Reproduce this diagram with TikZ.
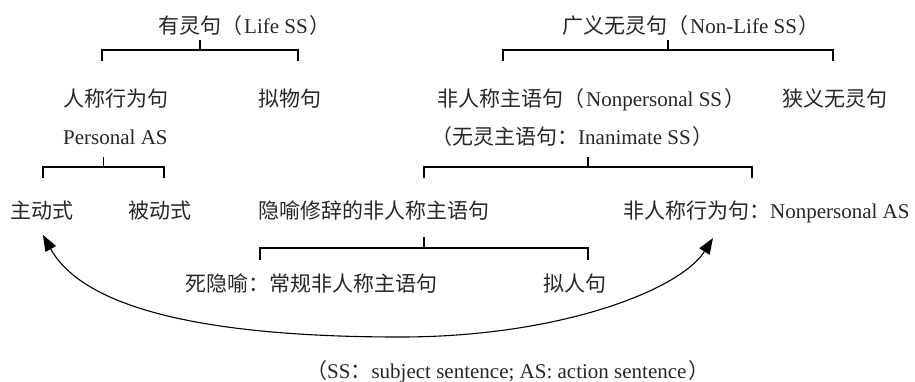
\documentclass[tikz,border=0pt]{standalone}
\usepackage{fontspec}
\setmainfont{Liberation Serif}
\newfontfamily\cjk{Noto Sans CJK SC}
\usetikzlibrary{arrows.meta}
\newcommand\zh[1]{{\cjk #1}}
\newcommand\brkt[6]{%
  \coordinate (#1t) at ({(#2+#3)/2},#4);
  \coordinate (#1m) at ({(#2+#3)/2},#5);
  \coordinate (#1l) at (#2,#5);
  \coordinate (#1r) at (#3,#5);
  \coordinate (#1lb) at (#2,#6);
  \coordinate (#1rb) at (#3,#6);
  \draw[brk] (#1t) -- (#1m) (#1lb) -- (#1l) -- (#1r) -- (#1rb);}
\begin{document}
\begin{tikzpicture}[x=1pt,y=-1pt,
  lbl/.style={anchor=west,inner sep=0pt,text height=18pt,text depth=2pt,
    font=\fontsize{21}{25}\selectfont,text=black!85},
  brk/.style={line width=1.1pt,draw=black},
  arr/.style={line width=1.1pt,draw=black,
    {Triangle[length=16pt,width=12pt]}-{Triangle[length=16pt,width=12pt]}}]
\useasboundingbox (0,0) rectangle (915,381);

% row 1
\node[lbl] (life) at (158,25) {\zh{有灵句（}\kern2pt Life SS\kern2pt\zh{）}};
\node[lbl] (nonlife) at (562,25) {\zh{广义无灵句（}\kern2pt Non-Life SS\kern2pt\zh{）}};
% row 2
\node[lbl] (pa) at (63,98) {\zh{人称行为句}};
\node[lbl] (nw) at (258,98) {\zh{拟物句}};
\node[lbl] (nps) at (437,98) {\zh{非人称主语句（}\kern2pt Nonpersonal SS\kern2pt\zh{）}};
\node[lbl] (xy) at (782,98) {\zh{狭义无灵句}};
% row 3
\node[lbl] (pas) at (63,136) {Personal AS};
\node[lbl] (inan) at (431,136) {\zh{（无灵主语句：}Inanimate SS\kern2pt\zh{）}};
% row 4
\node[lbl] (zd) at (10,210) {\zh{主动式}};
\node[lbl] (bd) at (128,210) {\zh{被动式}};
\node[lbl] (ym) at (258,210) {\zh{隐喻修辞的非人称主语句}};
\node[lbl] (fr) at (623,210) {\zh{非人称行为句：}Nonpersonal AS};
% row 5
\node[lbl] (sy) at (185,283) {\zh{死隐喻：常规非人称主语句}};
\node[lbl] (nr) at (543,283) {\zh{拟人句}};
% caption
\node[lbl] (cap) at (306,370) {\zh{（}SS\zh{：}subject sentence; AS: action sentence\kern2pt\zh{）}};

% brackets
\brkt{b1}{102}{298}{40}{50}{61}
\brkt{b2}{503}{833}{40}{50}{61}
\brkt{b3}{43}{164}{157}{167}{178}
\brkt{b4}{424}{752}{157}{167}{178}
\brkt{b5}{260}{588}{237}{248}{260}

% double arrow
\coordinate (al) at (43,235);
\coordinate (ar) at (713,238);
\draw[arr] (al) .. controls (90,320) and (250,337) .. (400,337)
  .. controls (560,337) and (680,290) .. (ar);
\end{tikzpicture}
\end{document}
